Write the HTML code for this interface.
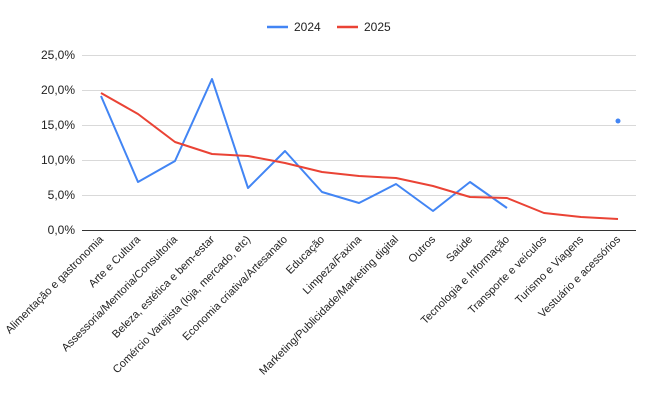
<!DOCTYPE html>
<html><head><meta charset="utf-8"><style>
body{margin:0;background:#fff;}
svg{display:block;font-family:"Liberation Sans",Arial,sans-serif;}
</style></head><body>
<svg width="657" height="407" viewBox="0 0 657 407">
<rect width="657" height="407" fill="#fff"/>
<g stroke="#d9d9d9" stroke-width="1">
<line x1="82" y1="55.5" x2="636" y2="55.5"/>
<line x1="82" y1="90.5" x2="636" y2="90.5"/>
<line x1="82" y1="125.5" x2="636" y2="125.5"/>
<line x1="82" y1="160.5" x2="636" y2="160.5"/>
<line x1="82" y1="195.5" x2="636" y2="195.5"/>
</g>
<line x1="82" y1="230.5" x2="636" y2="230.5" stroke="#333" stroke-width="1"/>
<g font-size="12" fill="#222" text-anchor="end">
<text x="75" y="59">25,0%</text>
<text x="75" y="94">20,0%</text>
<text x="75" y="129">15,0%</text>
<text x="75" y="164">10,0%</text>
<text x="75" y="199">5,0%</text>
<text x="75" y="234">0,0%</text>
</g>
<line x1="267" y1="27" x2="288" y2="27" stroke="#4285f4" stroke-width="2.5"/>
<text x="294" y="31" font-size="12" fill="#222">2024</text>
<line x1="337" y1="27" x2="358" y2="27" stroke="#ea4335" stroke-width="2.5"/>
<text x="364" y="31" font-size="12" fill="#222">2025</text>
<polyline fill="none" stroke="#4285f4" stroke-width="2" stroke-linejoin="round" points="101,96 138,182 175,161 212,79 248,188 285,151 322,192 359,203 396,184 433,211 470,182 507,208"/>
<circle cx="618" cy="121" r="2.5" fill="#4285f4"/>
<polyline fill="none" stroke="#ea4335" stroke-width="2" stroke-linejoin="round" points="101,93 138,114 175,142 212,154 248,156 285,163 322,172 359,176 396,178 433,186 470,197 507,198 544,213 581,217 618,219"/>
<g font-size="11" fill="#222" text-anchor="end">
<text transform="translate(104,240) rotate(-45)">Alimentação e gastronomia</text>
<text transform="translate(141,240) rotate(-45)">Arte e Cultura</text>
<text transform="translate(178,240) rotate(-45)">Assessoria/Mentoria/Consultoria</text>
<text transform="translate(215,240) rotate(-45)">Beleza, estética e bem-estar</text>
<text transform="translate(251,240) rotate(-45)">Comércio Varejista (loja, mercado, etc)</text>
<text transform="translate(288,240) rotate(-45)">Economia criativa/Artesanato</text>
<text transform="translate(325,240) rotate(-45)">Educação</text>
<text transform="translate(362,240) rotate(-45)">Limpeza/Faxina</text>
<text transform="translate(399,240) rotate(-45)">Marketing/Publicidade/Marketing digital</text>
<text transform="translate(436,240) rotate(-45)">Outros</text>
<text transform="translate(473,240) rotate(-45)">Saúde</text>
<text transform="translate(510,240) rotate(-45)">Tecnologia e Informação</text>
<text transform="translate(547,240) rotate(-45)">Transporte e veículos</text>
<text transform="translate(584,240) rotate(-45)">Turismo e Viagens</text>
<text transform="translate(621,240) rotate(-45)">Vestuário e acessórios</text>
</g>
</svg>
</body></html>
